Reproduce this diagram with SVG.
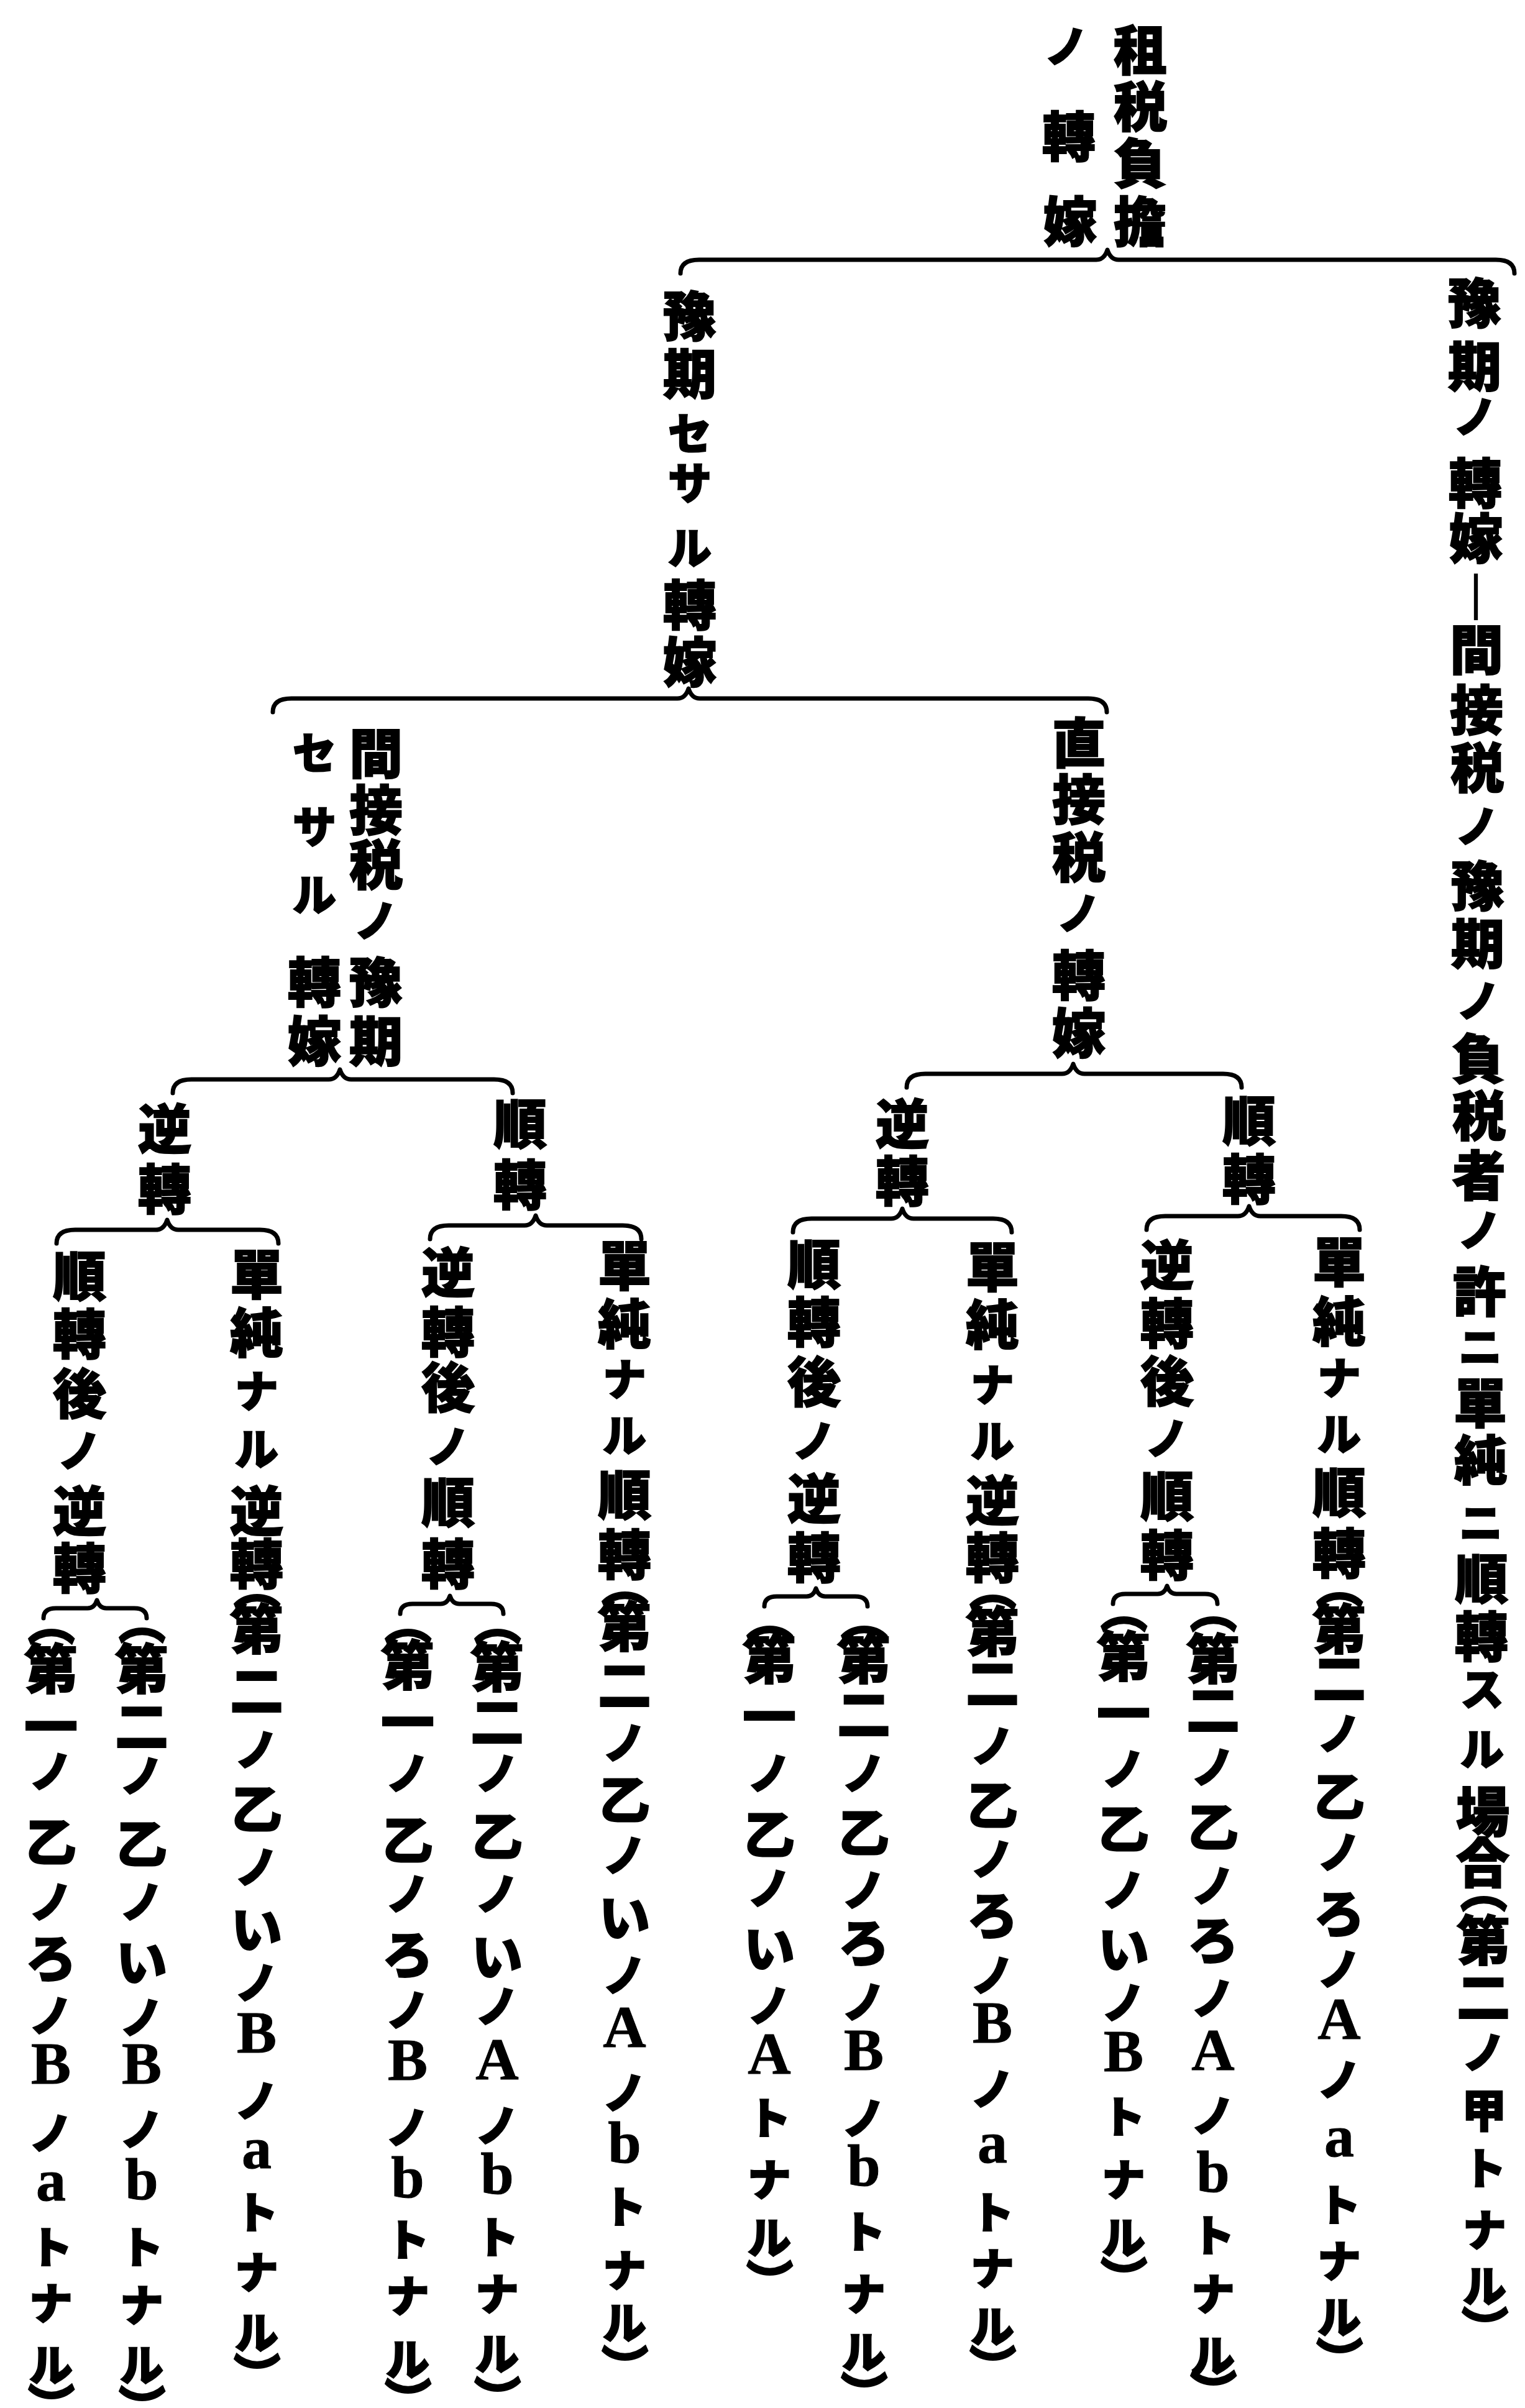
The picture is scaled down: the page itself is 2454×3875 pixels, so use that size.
<svg xmlns="http://www.w3.org/2000/svg" width="2454" height="3875" viewBox="0 0 2454 3875">
<style>
text{font-family:"Noto Sans CJK JP","Noto Sans CJK SC",sans-serif;font-weight:900;fill:#000;stroke:#000;stroke-width:2px;text-anchor:middle;dominant-baseline:central;font-size:86px}
.s{font-size:70px}
.h{font-size:82px}
.m{font-size:72px}
.l{font-family:"Liberation Serif",serif;font-weight:700;font-size:96px;stroke-width:1px}
.p{font-size:76px}
.br{fill:none;stroke:#000;stroke-width:7;stroke-linecap:round;stroke-linejoin:round}
</style>
<rect width="2454" height="3875" fill="#fff"/>
<g id="connectors">
<path class="br" d="M1095,440 Q1095,418 1125,418 L1764,418 Q1777,418 1782,402 Q1787,418 1800,418 L2407,418 Q2437,418 2437,440"/>
<path class="br" d="M439,1146 Q439,1124 469,1124 L1090,1124 Q1103,1124 1108,1108 Q1113,1124 1126,1124 L1751,1124 Q1781,1124 1781,1146"/>
<path class="br" d="M278,1759 Q278,1737 308,1737 L529,1737 Q542,1737 547,1721 Q552,1737 565,1737 L795,1737 Q825,1737 825,1759"/>
<path class="br" d="M1459,1750 Q1459,1728 1489,1728 L1709,1728 Q1722,1728 1727,1712 Q1732,1728 1745,1728 L1968,1728 Q1998,1728 1998,1750"/>
<path class="br" d="M91,2001 Q91,1979 121,1979 L251,1979 Q264,1979 269,1963 Q274,1979 287,1979 L418,1979 Q448,1979 448,2001"/>
<path class="br" d="M692,1994 Q692,1972 722,1972 L844,1972 Q857,1972 862,1956 Q867,1972 880,1972 L1002,1972 Q1032,1972 1032,1994"/>
<path class="br" d="M1276,1983 Q1276,1961 1306,1961 L1434,1961 Q1447,1961 1452,1945 Q1457,1961 1470,1961 L1598,1961 Q1628,1961 1628,1983"/>
<path class="br" d="M1845,1979 Q1845,1957 1875,1957 L1992,1957 Q2005,1957 2010,1941 Q2015,1957 2028,1957 L2158,1957 Q2188,1957 2188,1979"/>
<path class="br" d="M70,2604 Q70,2588 90,2588 L141,2588 Q152,2588 156,2575 Q160,2588 171,2588 L216,2588 Q236,2588 236,2604"/>
<path class="br" d="M644,2597 Q644,2581 664,2581 L709,2581 Q720,2581 724,2568 Q728,2581 739,2581 L790,2581 Q810,2581 810,2597"/>
<path class="br" d="M1230,2585 Q1230,2569 1250,2569 L1298,2569 Q1309,2569 1313,2556 Q1317,2569 1328,2569 L1376,2569 Q1396,2569 1396,2585"/>
<path class="br" d="M1791,2581 Q1791,2565 1811,2565 L1863,2565 Q1874,2565 1878,2552 Q1882,2565 1893,2565 L1939,2565 Q1959,2565 1959,2581"/>
</g>
<g id="n0"><text><tspan x="1835" y="75">租</tspan><tspan x="1835" y="166">税</tspan><tspan x="1835" y="257">負</tspan><tspan x="1835" y="351">擔</tspan><tspan class="s" x="1716" y="70">ノ</tspan><tspan x="1720" y="214">轉</tspan><tspan x="1722" y="351">嫁</tspan></text></g>
<g id="n1"><text><tspan x="1110" y="503">豫</tspan><tspan x="1110" y="596">期</tspan><tspan class="s" x="1110" y="693">セ</tspan><tspan class="s" x="1110" y="773">サ</tspan><tspan class="s" x="1110" y="877">ル</tspan><tspan x="1110" y="968">轉</tspan><tspan x="1110" y="1060">嫁</tspan></text></g>
<g id="n2"><text><tspan x="2373" y="482">豫</tspan><tspan x="2373" y="584">期</tspan><tspan class="s" x="2374" y="666">ノ</tspan><tspan x="2374" y="772">轉</tspan><tspan x="2375" y="861">嫁</tspan><tspan x="2375" y="956">︱</tspan><tspan x="2376" y="1040">間</tspan><tspan x="2376" y="1137">接</tspan><tspan x="2377" y="1230">税</tspan><tspan class="s" x="2377" y="1325">ノ</tspan><tspan x="2378" y="1420">豫</tspan><tspan x="2378" y="1513">期</tspan><tspan class="s" x="2379" y="1606">ノ</tspan><tspan x="2379" y="1698">負</tspan><tspan x="2380" y="1790">税</tspan><tspan x="2380" y="1886">者</tspan><tspan class="s" x="2381" y="1975">ノ</tspan><tspan x="2381" y="2073">許</tspan><tspan class="s" x="2382" y="2163">ニ</tspan><tspan x="2382" y="2252">單</tspan><tspan x="2383" y="2344">純</tspan><tspan class="s" x="2383" y="2446">ニ</tspan><tspan x="2384" y="2535">順</tspan><tspan x="2384" y="2628">轉</tspan><tspan class="s" x="2385" y="2714">ス</tspan><tspan class="s" x="2385" y="2810">ル</tspan><tspan x="2386" y="2910">場</tspan><tspan x="2386" y="2992">合</tspan><tspan class="p" x="2397" y="2970" rotate="90">（</tspan><tspan x="2387" y="3117">第</tspan><tspan x="2387" y="3208">二</tspan><tspan class="s" x="2388" y="3298">ノ</tspan><tspan class="m" x="2388" y="3391">甲</tspan><tspan class="s" x="2389" y="3485">ト</tspan><tspan class="s" x="2389" y="3584">ナ</tspan><tspan class="s" x="2389" y="3674">ル</tspan><tspan class="p" x="2399" y="3676" rotate="90">）</tspan></text></g>
<g id="n3"><text><tspan x="605" y="1207">間</tspan><tspan x="605" y="1298">接</tspan><tspan x="605" y="1386">税</tspan><tspan class="s" x="605" y="1477">ノ</tspan><tspan x="605" y="1575">豫</tspan><tspan x="605" y="1670">期</tspan><tspan class="s" x="506" y="1207">セ</tspan><tspan class="s" x="506" y="1326">サ</tspan><tspan class="s" x="506" y="1435">ル</tspan><tspan x="506" y="1575">轉</tspan><tspan x="506" y="1670">嫁</tspan></text></g>
<g id="n4"><text><tspan x="1736" y="1190">直</tspan><tspan x="1736" y="1281">接</tspan><tspan x="1736" y="1374">税</tspan><tspan class="s" x="1736" y="1465">ノ</tspan><tspan x="1736" y="1564">轉</tspan><tspan x="1736" y="1657">嫁</tspan></text></g>
<g id="n5"><text><tspan x="265" y="1811">逆</tspan><tspan x="265" y="1908">轉</tspan></text></g>
<g id="n6"><text><tspan x="837" y="1803">順</tspan><tspan x="837" y="1901">轉</tspan></text></g>
<g id="n7"><text><tspan x="1452" y="1803">逆</tspan><tspan x="1452" y="1895">轉</tspan></text></g>
<g id="n8"><text><tspan x="2010" y="1798">順</tspan><tspan x="2010" y="1892">轉</tspan></text></g>
<g id="n9"><text><tspan x="128" y="2048">順</tspan><tspan x="128" y="2141">轉</tspan><tspan x="128" y="2237">後</tspan><tspan class="s" x="128" y="2330">ノ</tspan><tspan x="128" y="2426">逆</tspan><tspan x="128" y="2518">轉</tspan></text></g>
<g id="n10"><text><tspan class="p" x="92" y="2540" rotate="90">（</tspan><tspan x="82" y="2680">第</tspan><tspan x="82" y="2773">一</tspan><tspan class="s" x="82" y="2846">ノ</tspan><tspan class="h" x="82" y="2959">乙</tspan><tspan class="s" x="82" y="3056">ノ</tspan><tspan class="h" x="82" y="3146">ろ</tspan><tspan class="s" x="82" y="3239">ノ</tspan><tspan class="l" x="82" y="3320">B</tspan><tspan class="s" x="82" y="3428">ノ</tspan><tspan class="l" x="82" y="3508">a</tspan><tspan class="s" x="82" y="3612">ト</tspan><tspan class="s" x="82" y="3702">ナ</tspan><tspan class="s" x="82" y="3801">ル</tspan><tspan class="p" x="92" y="3800" rotate="90">）</tspan></text></g>
<g id="n11"><text><tspan class="p" x="238" y="2538" rotate="90">（</tspan><tspan x="228" y="2680">第</tspan><tspan x="228" y="2772">二</tspan><tspan class="s" x="228" y="2853">ノ</tspan><tspan class="h" x="228" y="2962">乙</tspan><tspan class="s" x="228" y="3056">ノ</tspan><tspan class="h" x="228" y="3152">い</tspan><tspan class="s" x="228" y="3242">ノ</tspan><tspan class="l" x="228" y="3320">B</tspan><tspan class="s" x="228" y="3422">ノ</tspan><tspan class="l" x="228" y="3506">b</tspan><tspan class="s" x="228" y="3612">ト</tspan><tspan class="s" x="228" y="3705">ナ</tspan><tspan class="s" x="228" y="3801">ル</tspan><tspan class="p" x="238" y="3803" rotate="90">）</tspan></text></g>
<g id="n12"><text><tspan x="413" y="2045">單</tspan><tspan x="413" y="2139">純</tspan><tspan class="s" x="413" y="2234">ナ</tspan><tspan class="s" x="413" y="2327">ル</tspan><tspan x="413" y="2426">逆</tspan><tspan x="413" y="2511">轉</tspan><tspan class="p" x="423" y="2484" rotate="90">（</tspan><tspan x="413" y="2616">第</tspan><tspan x="413" y="2715">二</tspan><tspan class="s" x="413" y="2811">ノ</tspan><tspan class="h" x="413" y="2906">乙</tspan><tspan class="s" x="413" y="3000">ノ</tspan><tspan class="h" x="413" y="3099">い</tspan><tspan class="s" x="413" y="3186">ノ</tspan><tspan class="l" x="413" y="3270">B</tspan><tspan class="s" x="413" y="3376">ノ</tspan><tspan class="l" x="413" y="3456">a</tspan><tspan class="s" x="413" y="3556">ト</tspan><tspan class="s" x="413" y="3652">ナ</tspan><tspan class="s" x="413" y="3749">ル</tspan><tspan class="p" x="423" y="3751" rotate="90">）</tspan></text></g>
<g id="n13"><text><tspan x="721" y="2042">逆</tspan><tspan x="721" y="2138">轉</tspan><tspan x="721" y="2227">後</tspan><tspan class="s" x="721" y="2323">ノ</tspan><tspan x="721" y="2412">順</tspan><tspan x="721" y="2511">轉</tspan></text></g>
<g id="n14"><text><tspan class="p" x="666" y="2540" rotate="90">（</tspan><tspan x="656" y="2674">第</tspan><tspan x="656" y="2766">一</tspan><tspan class="s" x="656" y="2849">ノ</tspan><tspan class="h" x="656" y="2956">乙</tspan><tspan class="s" x="656" y="3043">ノ</tspan><tspan class="h" x="656" y="3140">ろ</tspan><tspan class="s" x="656" y="3230">ノ</tspan><tspan class="l" x="656" y="3314">B</tspan><tspan class="s" x="656" y="3419">ノ</tspan><tspan class="l" x="656" y="3503">b</tspan><tspan class="s" x="656" y="3600">ト</tspan><tspan class="s" x="656" y="3690">ナ</tspan><tspan class="s" x="656" y="3792">ル</tspan><tspan class="p" x="666" y="3791" rotate="90">）</tspan></text></g>
<g id="n15"><text><tspan class="p" x="810" y="2540" rotate="90">（</tspan><tspan x="800" y="2677">第</tspan><tspan x="800" y="2765">二</tspan><tspan class="s" x="800" y="2849">ノ</tspan><tspan class="h" x="800" y="2950">乙</tspan><tspan class="s" x="800" y="3043">ノ</tspan><tspan class="h" x="800" y="3143">い</tspan><tspan class="s" x="800" y="3224">ノ</tspan><tspan class="l" x="800" y="3313">A</tspan><tspan class="s" x="800" y="3416">ノ</tspan><tspan class="l" x="800" y="3497">b</tspan><tspan class="s" x="800" y="3596">ト</tspan><tspan class="s" x="800" y="3687">ナ</tspan><tspan class="s" x="800" y="3783">ル</tspan><tspan class="p" x="810" y="3788" rotate="90">）</tspan></text></g>
<g id="n16"><text><tspan x="1005" y="2031">單</tspan><tspan x="1005" y="2125">純</tspan><tspan class="s" x="1005" y="2215">ナ</tspan><tspan class="s" x="1005" y="2305">ル</tspan><tspan x="1005" y="2400">順</tspan><tspan x="1005" y="2496">轉</tspan><tspan class="p" x="1015" y="2480" rotate="90">（</tspan><tspan x="1005" y="2612">第</tspan><tspan x="1005" y="2706">二</tspan><tspan class="s" x="1005" y="2800">ノ</tspan><tspan class="h" x="1005" y="2891">乙</tspan><tspan class="s" x="1005" y="2981">ノ</tspan><tspan class="h" x="1005" y="3080">い</tspan><tspan class="s" x="1005" y="3174">ノ</tspan><tspan class="l" x="1005" y="3261">A</tspan><tspan class="s" x="1005" y="3363">ノ</tspan><tspan class="l" x="1005" y="3447">b</tspan><tspan class="s" x="1005" y="3547">ト</tspan><tspan class="s" x="1005" y="3649">ナ</tspan><tspan class="s" x="1005" y="3733">ル</tspan><tspan class="p" x="1015" y="3738" rotate="90">）</tspan></text></g>
<g id="n17"><text><tspan x="1310" y="2029">順</tspan><tspan x="1310" y="2122">轉</tspan><tspan x="1310" y="2218">後</tspan><tspan class="s" x="1310" y="2314">ノ</tspan><tspan x="1310" y="2406">逆</tspan><tspan x="1310" y="2501">轉</tspan></text></g>
<g id="n18"><text><tspan class="p" x="1248" y="2535" rotate="90">（</tspan><tspan x="1238" y="2664">第</tspan><tspan x="1238" y="2757">一</tspan><tspan class="s" x="1238" y="2849">ノ</tspan><tspan class="h" x="1238" y="2947">乙</tspan><tspan class="s" x="1238" y="3034">ノ</tspan><tspan class="h" x="1238" y="3130">い</tspan><tspan class="s" x="1238" y="3223">ノ</tspan><tspan class="l" x="1238" y="3304">A</tspan><tspan class="s" x="1238" y="3404">ト</tspan><tspan class="s" x="1238" y="3503">ナ</tspan><tspan class="s" x="1238" y="3596">ル</tspan><tspan class="p" x="1248" y="3601" rotate="90">）</tspan></text></g>
<g id="n19"><text><tspan class="p" x="1400" y="2535" rotate="90">（</tspan><tspan x="1390" y="2664">第</tspan><tspan x="1390" y="2753">二</tspan><tspan class="s" x="1390" y="2849">ノ</tspan><tspan class="h" x="1390" y="2944">乙</tspan><tspan class="s" x="1390" y="3037">ノ</tspan><tspan class="h" x="1390" y="3121">ろ</tspan><tspan class="s" x="1390" y="3217">ノ</tspan><tspan class="l" x="1390" y="3298">B</tspan><tspan class="s" x="1390" y="3404">ノ</tspan><tspan class="l" x="1390" y="3484">b</tspan><tspan class="s" x="1390" y="3587">ト</tspan><tspan class="s" x="1390" y="3687">ナ</tspan><tspan class="s" x="1390" y="3780">ル</tspan><tspan class="p" x="1400" y="3781" rotate="90">）</tspan></text></g>
<g id="n20"><text><tspan x="1597" y="2033">單</tspan><tspan x="1597" y="2126">純</tspan><tspan class="s" x="1597" y="2224">ナ</tspan><tspan class="s" x="1597" y="2314">ル</tspan><tspan x="1597" y="2409">逆</tspan><tspan x="1597" y="2501">轉</tspan><tspan class="p" x="1607" y="2485" rotate="90">（</tspan><tspan x="1597" y="2620">第</tspan><tspan x="1597" y="2703">二</tspan><tspan class="s" x="1597" y="2805">ノ</tspan><tspan class="h" x="1597" y="2900">乙</tspan><tspan class="s" x="1597" y="2987">ノ</tspan><tspan class="h" x="1597" y="3077">ろ</tspan><tspan class="s" x="1597" y="3174">ノ</tspan><tspan class="l" x="1597" y="3254">B</tspan><tspan class="s" x="1597" y="3357">ノ</tspan><tspan class="l" x="1597" y="3447">a</tspan><tspan class="s" x="1597" y="3556">ト</tspan><tspan class="s" x="1597" y="3646">ナ</tspan><tspan class="s" x="1597" y="3739">ル</tspan><tspan class="p" x="1607" y="3738" rotate="90">）</tspan></text></g>
<g id="n21"><text><tspan x="1878" y="2030">逆</tspan><tspan x="1878" y="2124">轉</tspan><tspan x="1878" y="2217">後</tspan><tspan class="s" x="1878" y="2310">ノ</tspan><tspan x="1878" y="2402">順</tspan><tspan x="1878" y="2497">轉</tspan></text></g>
<g id="n22"><text><tspan class="p" x="1818" y="2520" rotate="90">（</tspan><tspan x="1808" y="2660">第</tspan><tspan x="1808" y="2752">一</tspan><tspan class="s" x="1808" y="2842">ノ</tspan><tspan class="h" x="1808" y="2938">乙</tspan><tspan class="s" x="1808" y="3037">ノ</tspan><tspan class="h" x="1808" y="3131">い</tspan><tspan class="s" x="1808" y="3218">ノ</tspan><tspan class="l" x="1808" y="3300">B</tspan><tspan class="s" x="1808" y="3402">ト</tspan><tspan class="s" x="1808" y="3503">ナ</tspan><tspan class="s" x="1808" y="3596">ル</tspan><tspan class="p" x="1818" y="3596" rotate="90">）</tspan></text></g>
<g id="n23"><text><tspan class="p" x="1962" y="2520" rotate="90">（</tspan><tspan x="1952" y="2664">第</tspan><tspan x="1952" y="2746">二</tspan><tspan class="s" x="1952" y="2839">ノ</tspan><tspan class="h" x="1952" y="2935">乙</tspan><tspan class="s" x="1952" y="3030">ノ</tspan><tspan class="h" x="1952" y="3117">ろ</tspan><tspan class="s" x="1952" y="3211">ノ</tspan><tspan class="l" x="1952" y="3298">A</tspan><tspan class="s" x="1952" y="3400">ノ</tspan><tspan class="l" x="1952" y="3494">b</tspan><tspan class="s" x="1952" y="3593">ト</tspan><tspan class="s" x="1952" y="3687">ナ</tspan><tspan class="s" x="1952" y="3786">ル</tspan><tspan class="p" x="1962" y="3778" rotate="90">）</tspan></text></g>
<g id="n24"><text><tspan x="2155" y="2025">單</tspan><tspan x="2155" y="2121">純</tspan><tspan class="s" x="2155" y="2213">ナ</tspan><tspan class="s" x="2155" y="2303">ル</tspan><tspan x="2155" y="2396">順</tspan><tspan x="2155" y="2494">轉</tspan><tspan class="p" x="2165" y="2481" rotate="90">（</tspan><tspan x="2155" y="2616">第</tspan><tspan x="2155" y="2695">二</tspan><tspan class="s" x="2155" y="2785">ノ</tspan><tspan class="h" x="2155" y="2886">乙</tspan><tspan class="s" x="2155" y="2976">ノ</tspan><tspan class="h" x="2155" y="3074">ろ</tspan><tspan class="s" x="2155" y="3164">ノ</tspan><tspan class="l" x="2155" y="3248">A</tspan><tspan class="s" x="2155" y="3342">ノ</tspan><tspan class="l" x="2155" y="3437">a</tspan><tspan class="s" x="2155" y="3544">ト</tspan><tspan class="s" x="2155" y="3634">ナ</tspan><tspan class="s" x="2155" y="3724">ル</tspan><tspan class="p" x="2165" y="3726" rotate="90">）</tspan></text></g>
</svg>
